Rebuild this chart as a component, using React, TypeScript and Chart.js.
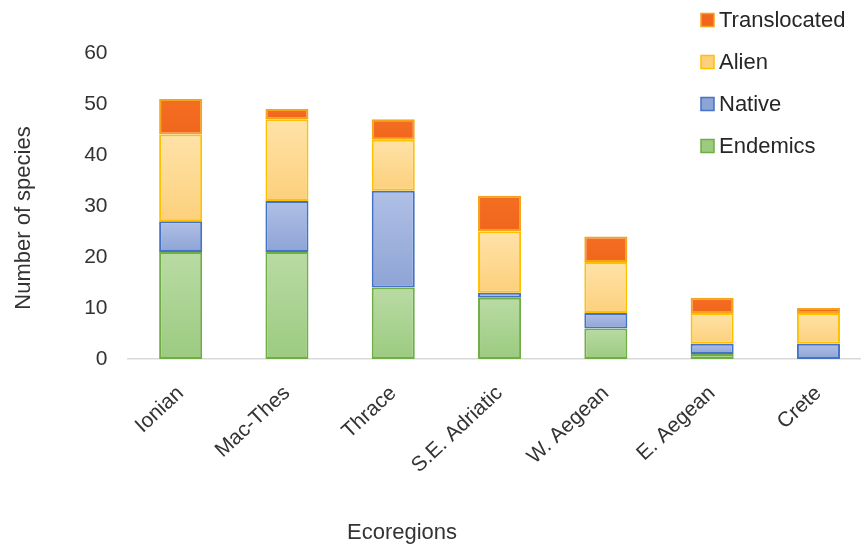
import { useEffect, useRef } from "react";
import { Chart, registerables } from "chart.js";

Chart.register(...registerables);

// Categories and stacked series (bottom to top)
const ecoregions = ["Ionian", "Mac-Thes", "Thrace", "S.E. Adriatic", "W. Aegean", "E. Aegean", "Crete"];
const endemics = [21, 21, 14, 12, 6, 1, 0];
const native = [6, 10, 19, 1, 3, 2, 3];
const alien = [17, 16, 10, 12, 10, 6, 6];
const translocated = [7, 2, 4, 7, 5, 3, 1];
const yTicks = [0, 10, 20, 30, 40, 50, 60];

const seriesNames = ["Endemics", "Native", "Alien", "Translocated"];
const seriesValues = [endemics, native, alien, translocated];

// fill top, fill bottom, border
const seriesColors = [
  { top: "#B9DBA4", bottom: "#9CCB80", border: "#70AD47" },
  { top: "#B0C0E6", bottom: "#8EA4D6", border: "#4472C4" },
  { top: "#FFE2A8", bottom: "#FCD07C", border: "#FFC000" },
  { top: "#F46E22", bottom: "#F0661C", border: "#F7A21B" },
];

const CANVAS_W = 880;
const CANVAS_H = 545;
const FONT = "'Liberation Sans', Arial, sans-serif";
const TEXT = "#333333";

function barGradient(seriesIdx: number) {
  const c = seriesColors[seriesIdx];
  return (ctx: any) => {
    const chart = ctx.chart;
    const y = chart.scales?.y;
    if (!chart.chartArea || !y || ctx.dataIndex === undefined) return c.bottom;
    const i = ctx.dataIndex;
    let base = 0;
    for (let s = 0; s < seriesIdx; s++) base += seriesValues[s][i];
    const topVal = base + seriesValues[seriesIdx][i];
    const y0 = y.getPixelForValue(topVal);
    const y1 = y.getPixelForValue(base);
    if (!isFinite(y0) || !isFinite(y1) || y0 === y1) return c.bottom;
    const g = chart.ctx.createLinearGradient(0, y0, 0, y1);
    g.addColorStop(0, c.top);
    g.addColorStop(1, c.bottom);
    return g;
  };
}

const annotationPlugin = {
  id: "legendAndTitles",
  afterDraw(chart: any) {
    const ctx = chart.ctx as CanvasRenderingContext2D;
    ctx.save();
    // Legend, top series first
    const rowsY = [20, 62, 104, 146];
    for (let k = 0; k < 4; k++) {
      const s = 3 - k;
      const c = seriesColors[s];
      const cy = rowsY[k];
      ctx.fillStyle = c.bottom;
      ctx.fillRect(701, cy - 6.5, 13, 13);
      ctx.strokeStyle = c.border;
      ctx.lineWidth = 1.5;
      ctx.strokeRect(701, cy - 6.5, 13, 13);
      ctx.fillStyle = "#262626";
      ctx.font = `22px ${FONT}`;
      ctx.textAlign = "left";
      ctx.textBaseline = "middle";
      ctx.fillText(seriesNames[s], 719, cy + 1);
    }
    // Axis titles
    ctx.fillStyle = TEXT;
    ctx.font = `22px ${FONT}`;
    ctx.textAlign = "center";
    ctx.textBaseline = "alphabetic";
    ctx.fillText("Ecoregions", 402, 539);
    ctx.translate(30, 218);
    ctx.rotate(-Math.PI / 2);
    ctx.fillText("Number of species", 0, 0);
    ctx.restore();
  },
};

export default function App() {
  const canvasRef = useRef<HTMLCanvasElement | null>(null);

  useEffect(() => {
    if (!canvasRef.current) return;
    const chart = new Chart(canvasRef.current, {
      type: "bar",
      data: {
        labels: ecoregions,
        datasets: seriesNames.map((name, s) => ({
          label: name,
          data: seriesValues[s],
          backgroundColor: barGradient(s),
          borderColor: seriesColors[s].border,
          borderWidth: 2,
          borderSkipped: false,
          categoryPercentage: 0.405,
          barPercentage: 1,
        })),
      },
      options: {
        responsive: false,
        animation: false,
        devicePixelRatio: 1,
        layout: { padding: { top: 53, right: CANVAS_W - 871.6, left: 0, bottom: 0 } },
        plugins: {
          legend: { display: false },
          tooltip: { enabled: false },
        },
        scales: {
          x: {
            stacked: true,
            grid: { display: false },
            border: { display: true, color: "#D9D9D9", width: 1.5 },
            ticks: {
              color: TEXT,
              font: { size: 21, family: FONT },
              minRotation: 43,
              maxRotation: 43,
              padding: 14,
            },
            afterFit: (s: any) => {
              s.height = CANVAS_H - 359;
            },
          },
          y: {
            stacked: true,
            min: 0,
            max: 60,
            grid: { display: false, drawTicks: false },
            border: { display: false },
            ticks: {
              color: TEXT,
              font: { size: 21, family: FONT },
              padding: 20,
            },
            afterBuildTicks: (s: any) => {
              s.ticks = yTicks.map((v) => ({ value: v }));
            },
            afterFit: (s: any) => {
              s.width = 127.5;
            },
          },
        },
      },
      plugins: [annotationPlugin],
    });
    return () => chart.destroy();
  }, []);

  return (
    <div
      style={{
        position: "fixed",
        left: 0,
        top: 0,
        width: 861,
        height: 545,
        overflow: "hidden",
        background: "#fff",
      }}
    >
      <canvas
        ref={canvasRef}
        width={CANVAS_W}
        height={CANVAS_H}
        style={{ display: "block", width: CANVAS_W, height: CANVAS_H }}
      />
    </div>
  );
}
